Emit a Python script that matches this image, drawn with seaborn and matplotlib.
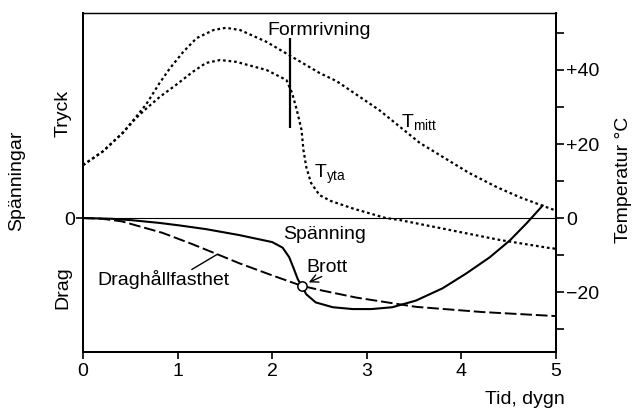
import seaborn as sns
import matplotlib.pyplot as plt
from matplotlib.ticker import FixedLocator

# temperatures (deg C), x in days
tmitt_day = [0, 0.21, 0.42, 0.56, 0.67, 0.81, 0.92, 1.06, 1.20, 1.38, 1.51, 1.66, 1.94, 2.18,
             2.50, 2.68, 3.13, 3.56, 4.08, 4.37, 4.61, 4.86, 5.0]
tmitt_temp = [14.3, 18.0, 23.0, 27.3, 30.8, 36.5, 40.5, 44.9, 48.6, 50.8, 51.4, 50.8, 47.6, 44.0,
              39.2, 37.0, 29.2, 20.3, 12.2, 8.4, 5.7, 3.3, 2.0]

tyta_day = [0, 0.21, 0.42, 0.56, 0.67, 0.81, 0.98, 1.16, 1.30, 1.45, 1.62, 1.94, 2.15, 2.21,
            2.26, 2.31, 2.33, 2.36, 2.41, 2.50, 2.62, 2.85, 3.2, 3.34, 3.87, 4.4, 4.93, 5.0]
tyta_temp = [14.3, 18.0, 23.0, 27.0, 29.6, 32.7, 35.9, 39.5, 41.9, 42.7, 42.2, 40.0, 37.3, 33.8,
             29.2, 23.8, 18.4, 13.8, 9.5, 6.2, 4.6, 2.6, 0.0, -0.5, -3.2, -5.9, -8.1, -8.3]

# stresses (same vertical scale, 0 = no stress)
spanning_day = [0, 0.3, 0.52, 0.8, 1.02, 1.3, 1.65, 2.0, 2.11, 2.18, 2.23, 2.27, 2.31, 2.36,
                2.46, 2.64, 2.85, 3.05, 3.27, 3.52, 3.8, 4.05, 4.3, 4.51, 4.69, 4.86]
spanning_val = [0, -0.2, -0.6, -1.3, -2.0, -3.0, -4.6, -6.5, -8.0, -10.6, -13.8, -16.5, -18.3,
                -20.6, -22.8, -24.1, -24.6, -24.6, -24.1, -22.3, -19.0, -15.0, -10.6, -6.1, -1.4, 3.4]

drag_day = [0, 0.2, 0.41, 0.84, 1.15, 1.44, 1.65, 2.0, 2.31, 2.53, 2.89, 3.52, 4.22, 5.0]
drag_val = [0, -0.2, -0.9, -4.0, -7.0, -10.0, -12.2, -15.5, -18.3, -19.6, -21.5, -24.0, -25.4, -26.5]

brott_day, brott_val = 2.31, -18.3
formrivning_day = 2.19
formrivning_span = (24.3, 48.6)

temp_ticks = [-20, 0, 20, 40]
temp_labels = ["\u221220", "0", "+20", "+40"]
temp_minor = [-30, -10, 10, 30, 50]

sns.set_style("ticks")
plt.rcParams["font.family"] = ["Liberation Sans", "DejaVu Sans"]
plt.rcParams["mathtext.fontset"] = "custom"
plt.rcParams["mathtext.rm"] = "Liberation Sans"
plt.rcParams["font.size"] = 14
for k in ["axes.edgecolor", "text.color", "xtick.color", "ytick.color", "axes.labelcolor"]:
    plt.rcParams[k] = "black"

fig = plt.figure(figsize=(6.34, 4.12), dpi=100)
ax = fig.add_axes([83 / 634, 1 - 352 / 412, 473 / 634, 339 / 412])

ax.axhline(0, color="k", lw=0.8)
dotted = (0, (1.2, 1.3))
sns.lineplot(x=tmitt_day, y=tmitt_temp, ax=ax, color="k", lw=1.6, linestyle=dotted)
sns.lineplot(x=tyta_day, y=tyta_temp, ax=ax, color="k", lw=1.6, linestyle=dotted)
sns.lineplot(x=spanning_day, y=spanning_val, ax=ax, color="k", lw=1.5)
sns.lineplot(x=drag_day, y=drag_val, ax=ax, color="k", lw=1.4, linestyle=(0, (6, 2)))
ax.scatter([brott_day], [brott_val], s=45, facecolor="white", edgecolor="k", lw=1.1, zorder=5)
ax.vlines(formrivning_day, *formrivning_span, color="k", lw=1.6)

ax.set_xlim(0, 5)
ax.set_ylim(-36.2, 55.4)
ax.set_xticks([0, 1, 2, 3, 4, 5])
ax.set_yticks([0])
ax.set_yticklabels(["0"])
ax.tick_params(axis="x", length=5, width=1.2, pad=3)
ax.tick_params(axis="y", length=5, width=1.2, pad=1)
for s in ["left", "bottom", "right"]:
    ax.spines[s].set_linewidth(1.4)
ax.spines["top"].set_linewidth(0.9)

ax2 = ax.twinx()
ax2.set_ylim(-36.2, 55.4)
ax2.set_yticks(temp_ticks)
ax2.set_yticklabels(temp_labels)
ax2.yaxis.set_minor_locator(FixedLocator(temp_minor))
ax2.tick_params(axis="y", which="both", length=6, width=1.2, pad=1.5)
for s in ["left", "bottom", "right"]:
    ax2.spines[s].set_linewidth(1.4)
ax2.spines["top"].set_linewidth(0.9)

# annotations
ax.text(2.5, 49.5, "Formrivning", ha="center", va="baseline")
ax.text(3.36, 24.3, r"$\mathrm{T}_{\mathrm{mitt}}$", ha="left", va="baseline")
ax.text(2.44, 10.8, r"$\mathrm{T}_{\mathrm{yta}}$", ha="left", va="baseline")
ax.text(2.12, -5.6, "Spänning", ha="left", va="baseline")
ax.text(2.36, -14.6, "Brott", ha="left", va="baseline")
ax.annotate("", xy=(2.36, -17.7), xytext=(2.55, -15.5),
            arrowprops=dict(arrowstyle="->", lw=1, color="k"))
ax.text(0.15, -18.0, "Draghållfasthet", ha="left", va="baseline")
ax.plot([1.15, 1.42], [-13.9, -9.8], color="k", lw=1)

ax.text(-0.042, 0.705, "Tryck", transform=ax.transAxes, rotation=90, ha="center", va="center")
ax.text(-0.042, 0.189, "Drag", transform=ax.transAxes, rotation=90, ha="center", va="center")
fig.text(17 / 634, 1 - 181 / 412, "Spänningar", rotation=90, ha="center", va="center")
fig.text(624 / 634, 1 - 180 / 412, "Temperatur °C", rotation=90, ha="center", va="center")
fig.text(525 / 634, 1 - 400 / 412, "Tid, dygn", ha="center", va="center")

fig.savefig("out.png", dpi=100)
